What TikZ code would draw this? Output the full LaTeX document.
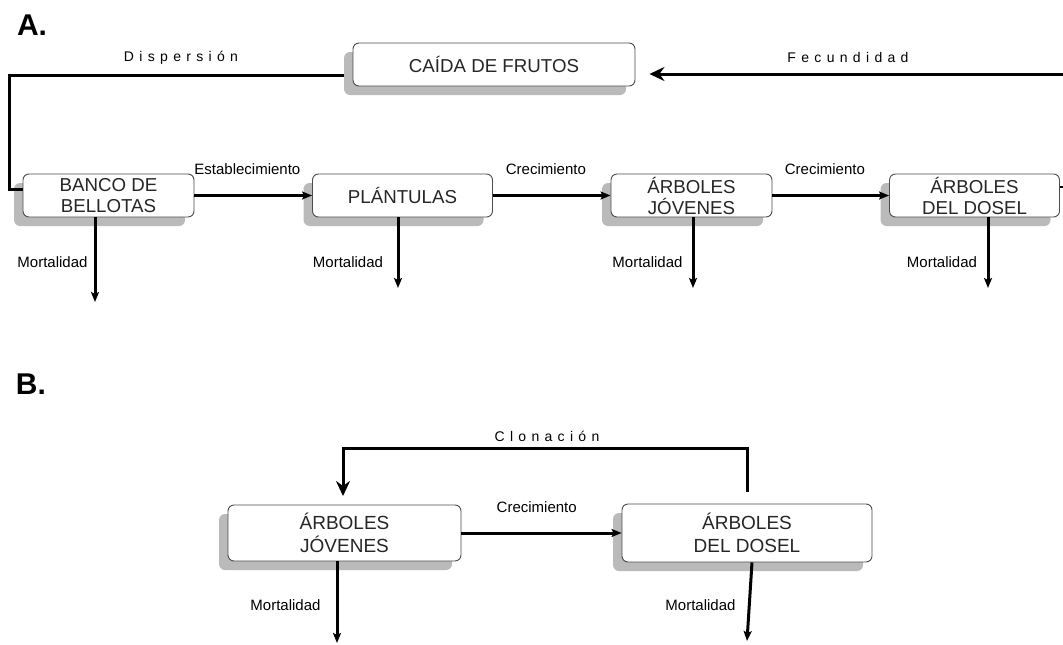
\documentclass[tikz,border=0pt]{standalone}
\usepackage{fontspec}
\setmainfont{Liberation Sans}
\newfontfamily\spacedfont{Liberation Sans}[LetterSpace=38]
\usetikzlibrary{positioning, shadows, arrows.meta, calc}

\begin{document}
\begin{tikzpicture}[
                x=1pt, y=-1pt,
                stagebox/.style={rectangle, rounded corners=6pt, draw=black!70, line width=0.9pt, fill=white,
                    align=center, inner sep=0pt, font=\fontsize{18.7}{21}\selectfont, text=black!85,
                    drop shadow={shadow xshift=-9pt, shadow yshift=-9pt, fill=black!27, opacity=1}},
                bigbox/.style={stagebox, font=\fontsize{19}{23}\selectfont},
                flow/.style={line width=3pt},
                arr/.style={flow, -{Stealth[length=10pt, width=8pt, inset=2pt]}},
                bigarr/.style={flow, -{Stealth[length=15pt, width=14pt, inset=5pt]}},
                lbl/.style={font=\fontsize{15}{17}\selectfont, inner sep=0pt},
                spaced/.style={font=\spacedfont\fontsize{14}{16}\selectfont, inner sep=0pt},
                panel/.style={font=\fontsize{30}{32}\selectfont\bfseries, inner sep=0pt},
            ]
            \useasboundingbox (0,0) rectangle (1063,645);

            % === Panel A ===
            \node[panel] (tagA) at (32,25) {A.};
            \node[stagebox, minimum width=282pt, minimum height=43pt] (caida) at (494,64.5) {CAÍDA DE FRUTOS};
            \node[stagebox, minimum width=171pt, minimum height=43pt] (banco) at (108.5,195.5) {BANCO DE\\BELLOTAS};
            \node[stagebox, minimum width=180pt, minimum height=43pt] (plant) at (402.5,195.5) {PLÁNTULAS};
            \node[stagebox, minimum width=161pt, minimum height=43pt] (jov) at (691.5,195.5) {ÁRBOLES\\JÓVENES};
            \node[stagebox, minimum width=170pt, minimum height=43pt] (dosel) at (974.5,195.5) {ÁRBOLES\\DEL DOSEL};

            \draw[arr] (banco.east) -- node[lbl, above=19pt, pos=0.45] (lblest) {Establecimiento} (plant.west);
            \draw[arr] (plant.east) -- node[lbl, above=19pt, pos=0.45] (lblcreA) {Crecimiento} (jov.west);
            \draw[arr] (jov.east) -- node[lbl, above=19pt, pos=0.45] (lblcreB) {Crecimiento} (dosel.west);

            % dispersion loop back to the seed bank
            \coordinate (dispstart) at ([xshift=-9pt, yshift=-10.5pt]caida.west);
            \coordinate (dispcorner) at (9,189);
            \draw[flow] (dispstart) -| (dispcorner) -- (dispcorner -| banco.west);
            \node[spaced] (lbldisp) at (181,58) {Dispersión};

            % fecundity from the canopy trees
            \coordinate (fecstart) at (1063,74);
            \coordinate (doselout) at (1063,187);
            \draw[line width=1.8pt] (dosel.east |- doselout) -- (doselout);
            \draw[bigarr, shorten >=14pt] (fecstart) -- (fecstart -| caida.east);
            \node[spaced] (lblfec) at (848,57) {Fecundidad};

            % mortality
            \foreach \stage/\xx/\yy/\lx in {banco/95/302/52.5, plant/398/288/348, jov/693/288/647.5, dosel/988/288/942} {
                \coordinate (m\stage) at (\xx,\yy);
                \draw[arr] (\stage.south -| m\stage) -- (m\stage);
                \node[lbl] at (\lx,262) {Mortalidad};
            }

            % === Panel B ===
            \node[panel] (tagB) at (31,384) {B.};
            \node[bigbox, minimum width=233pt, minimum height=56pt] (jovB) at (344.5,533) {ÁRBOLES\\JÓVENES};
            \node[bigbox, minimum width=250pt, minimum height=58pt] (doselB) at (747,533) {ÁRBOLES\\DEL DOSEL};

            \draw[arr] (jovB.east) -- node[lbl, above=19pt, pos=0.47] (lblcreC) {Crecimiento} (doselB.west);

            \coordinate (clonup) at (747,448);
            \coordinate (clontip) at (343,496);
            \draw[bigarr] ([yshift=12pt]doselB.north) -- (clonup) -| (clontip);
            \node[spaced] (lblclon) at (547,436) {Clonación};

            \coordinate (mjovB) at (337,643);
            \coordinate (mdoselB) at (747,641);
            \draw[arr] (jovB.south -| mjovB) -- (mjovB);
            \draw[arr] ([xshift=5pt]doselB.south) -- (mdoselB);
            \node[lbl] (lblmjB) at (285.5,605) {Mortalidad};
            \node[lbl] (lblmdB) at (700.5,605) {Mortalidad};
            \end{tikzpicture}
\end{document}
